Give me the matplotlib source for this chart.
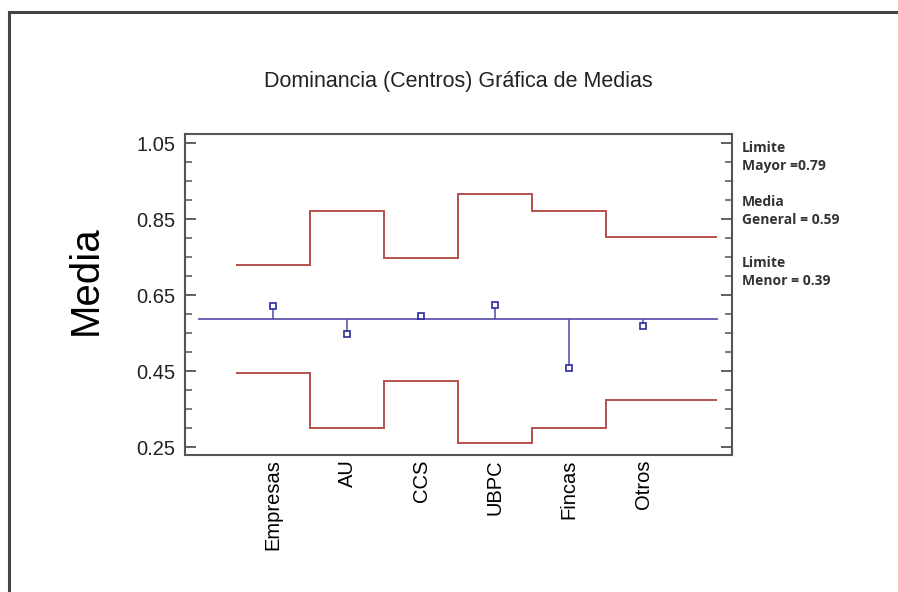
import matplotlib
matplotlib.use("Agg")
import matplotlib.pyplot as plt
from matplotlib.lines import Line2D
from matplotlib.ticker import MultipleLocator

categories = ['Empresas', 'AU', 'CCS', 'UBPC', 'Fincas', 'Otros']
means = [0.621, 0.547, 0.594, 0.623, 0.459, 0.569]
upper = [0.729, 0.870, 0.748, 0.915, 0.870, 0.804]
lower = [0.446, 0.300, 0.425, 0.261, 0.300, 0.375]
grand_mean = 0.588

plt.rcParams['font.family'] = ['Liberation Sans', 'DejaVu Sans']

fig = plt.figure(figsize=(8.98, 5.92), dpi=100)
ax = fig.add_axes([185 / 898, 1 - 455 / 592, (732 - 185) / 898, (455 - 134) / 592])

x = list(range(len(categories)))
red = '#b5504c'

# step limits: each category gets one unit, last one runs on to 6
edges = [i - 0.5 for i in x] + [len(x)]
ax.stairs(upper, edges, color=red, linewidth=1.4, baseline=None)
ax.stairs(lower, edges, color=red, linewidth=1.4, baseline=None)

ax.plot([-1, len(x)], [grand_mean, grand_mean], color='#6a64b4', linewidth=1.4)
ax.vlines(x, grand_mean, means, color='#4a4aa0', linewidth=1.1)
ax.plot(x, means, linestyle='none', marker='s', markersize=5,
        markerfacecolor='white', markeredgecolor='#2a2a9c', markeredgewidth=1.2)

ax.set_xlim(-1.19, 6.2)
ax.set_ylim(0.229, 1.074)
ax.set_xticks(x)
ax.set_xticklabels(categories, rotation=90, fontsize=14.5)
ax.tick_params(axis='x', length=0, pad=3)
ax.set_yticks([0.25, 0.45, 0.65, 0.85, 1.05])
ax.set_yticklabels(['0.25', '0.45', '0.65', '0.85', '1.05'])
ax.yaxis.set_minor_locator(MultipleLocator(0.05))
ax.tick_params(axis='y', which='both', direction='in', right=True, color='#555555',
               labelsize=14.5, pad=7, labelcolor='#222222')
ax.tick_params(axis='y', which='major', length=8, width=1.3)
ax.tick_params(axis='y', which='minor', length=5, width=1.1)
for s in ax.spines.values():
    s.set_color('#555555')
    s.set_linewidth(1.5)

fig.text(458 / 898, 1 - 82 / 592, 'Dominancia (Centros) Gráfica de Medias',
         ha='center', va='center', fontsize=15.5, color='#222222')
fig.text(86 / 898, 1 - 280 / 592, 'Media', rotation=90, ha='center', va='center',
         fontsize=29)

side = ['Limite\nMayor =0.79', 'Media\nGeneral = 0.59', 'Limite\nMenor = 0.39']
side_y = [157, 211, 272]
for txt, yy in zip(side, side_y):
    fig.text(742 / 898, 1 - yy / 592, txt, ha='left', va='center', fontsize=10,
             fontweight='bold', color='#333333', linespacing=1.45,
             family=['Open Sans', 'DejaVu Sans'])

# frame lines on top and left of the picture
fig.add_artist(Line2D([9 / 898, 1], [1 - 12 / 592, 1 - 12 / 592], color='#444444', linewidth=2.2))
fig.add_artist(Line2D([9 / 898, 9 / 898], [0, 1 - 12 / 592], color='#444444', linewidth=2.2))

fig.savefig('out.png', dpi=100)
